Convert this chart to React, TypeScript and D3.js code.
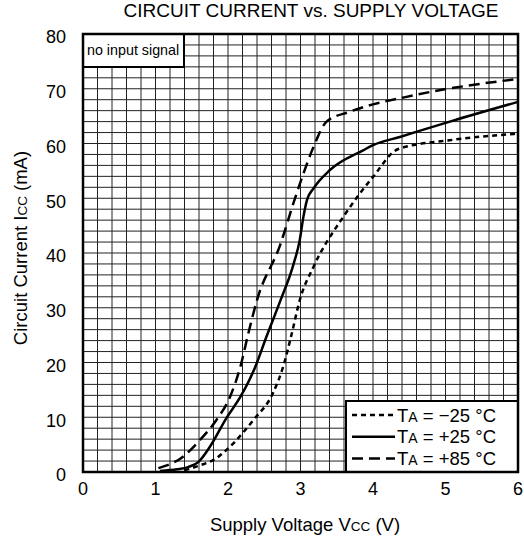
import React from "react";
import * as d3 from "d3";

const xTicks = [0, 1, 2, 3, 4, 5, 6];
const yTicks = [0, 10, 20, 30, 40, 50, 60, 70, 80];

const vM25 = [1.4, 1.61, 1.8, 2.07, 2.35, 2.62, 2.76, 2.88, 2.99, 3.18, 3.59, 4.0, 4.35, 5.06, 6.0];
const iM25 = [0.3, 1.2, 2.2, 5.2, 9.5, 14.4, 19.2, 25.3, 31.4, 37.5, 46.6, 53.9, 59, 60.6, 61.8];

const vP25 = [1.06, 1.3, 1.45, 1.59, 1.75, 1.98, 2.17, 2.37, 2.53, 2.72, 2.9, 2.99, 3.04, 3.09, 3.18, 3.41, 3.87, 4.0, 4.37, 5.06, 6.0];
const iP25 = [0.2, 0.5, 0.9, 1.8, 4.6, 9.9, 13.7, 19, 24.7, 31.2, 37.8, 42.4, 46.6, 49.7, 51.8, 55.2, 58.8, 59.7, 61.2, 64, 67.6];

const vP85 = [1.04, 1.38, 1.61, 1.84, 2.03, 2.17, 2.28, 2.4, 2.72, 2.9, 3.04, 3.18, 3.36, 3.68, 4.6, 6.0];
const iP85 = [0.7, 2.8, 5.8, 9.5, 13.8, 19.2, 25.3, 31.4, 41.5, 49, 54.5, 59.4, 64, 65.8, 68.9, 71.8];

const seriesLabels = ["\u221225 \u00B0C", "+25 \u00B0C", "+85 \u00B0C"];

const W = 524;
const H = 540;
const L = 83, R = 518, T = 34, B = 472;

export default function App() {
  const x = d3.scaleLinear().domain([0, 6]).range([L, R]);
  const y = d3.scaleLinear().domain([0, 80]).range([B, T]);
  const line = d3
    .line<[number, number]>()
    .x((d) => x(d[0]))
    .y((d) => y(d[1]))
    .curve(d3.curveMonotoneX);

  const series = [
    { v: vM25, i: iM25, dash: "5,4" },
    { v: vP25, i: iP25, dash: "" },
    { v: vP85, i: iP85, dash: "11,6" },
  ];

  const gridX = d3.range(0, 6.0001, 0.2);
  const gridY = d3.range(0, 80.0001, 2);
  const font = "Liberation Sans, Arial, Helvetica, sans-serif";

  return (
    <svg
      width={W}
      height={H}
      style={{ position: "absolute", left: 0, top: 0, background: "#fff" }}
      fontFamily={font}
    >
      <rect x={0} y={0} width={W} height={H} fill="#fff" />
      {gridX.map((g, k) => (
        <line key={"gx" + k} x1={x(g)} x2={x(g)} y1={T} y2={B} stroke="#222" strokeWidth={1} />
      ))}
      {gridY.map((g, k) => (
        <line key={"gy" + k} x1={L} x2={R} y1={y(g)} y2={y(g)} stroke="#222" strokeWidth={1} />
      ))}
      {series.map((s, k) => (
        <path
          key={"s" + k}
          d={line(s.v.map((v, j) => [v, s.i[j]] as [number, number])) || ""}
          fill="none"
          stroke="#000"
          strokeWidth={2.5}
          strokeDasharray={s.dash || undefined}
        />
      ))}
      {/* no input signal box */}
      <rect x={L} y={T} width={101} height={33} fill="#fff" stroke="#000" strokeWidth={2} />
      <text x={L + 4} y={T + 21} fontSize={14.3}>no input signal</text>
      {/* legend */}
      <rect x={346} y={401} width={R - 346} height={B - 401} fill="#fff" stroke="#000" strokeWidth={2} />
      {series.map((s, k) => (
        <g key={"lg" + k}>
          <line
            x1={352}
            x2={395}
            y1={415 + k * 21.7}
            y2={415 + k * 21.7}
            stroke="#000"
            strokeWidth={2.5}
            strokeDasharray={s.dash || undefined}
          />
          <text x={397} y={415 + k * 21.7} dy="0.36em" fontSize={18.5}>
            T<tspan fontSize={14}>A</tspan> = {seriesLabels[k]}
          </text>
        </g>
      ))}
      {/* frame */}
      <rect x={L} y={T} width={R - L} height={B - T} fill="none" stroke="#000" strokeWidth={2.5} />
      {xTicks.map((t) => (
        <text key={"xt" + t} x={x(t)} y={489} dy="0.36em" textAnchor="middle" fontSize={18}>
          {t}
        </text>
      ))}
      {yTicks.map((t) => (
        <text key={"yt" + t} x={66} y={y(t) + 3} dy="0.36em" textAnchor="end" fontSize={18}>
          {t}
        </text>
      ))}
      <text x={311} y={10} dy="0.36em" textAnchor="middle" fontSize={19}>
        CIRCUIT CURRENT vs. SUPPLY VOLTAGE
      </text>
      <text x={305} y={524} dy="0.36em" textAnchor="middle" fontSize={18.5}>
        Supply Voltage V<tspan fontSize={13.5}>CC</tspan> (V)
      </text>
      <text
        transform={`translate(20,248) rotate(-90)`}
        dy="0.36em"
        textAnchor="middle"
        fontSize={18.5}
      >
        Circuit Current I<tspan fontSize={13.5}>CC</tspan> (mA)
      </text>
    </svg>
  );
}
